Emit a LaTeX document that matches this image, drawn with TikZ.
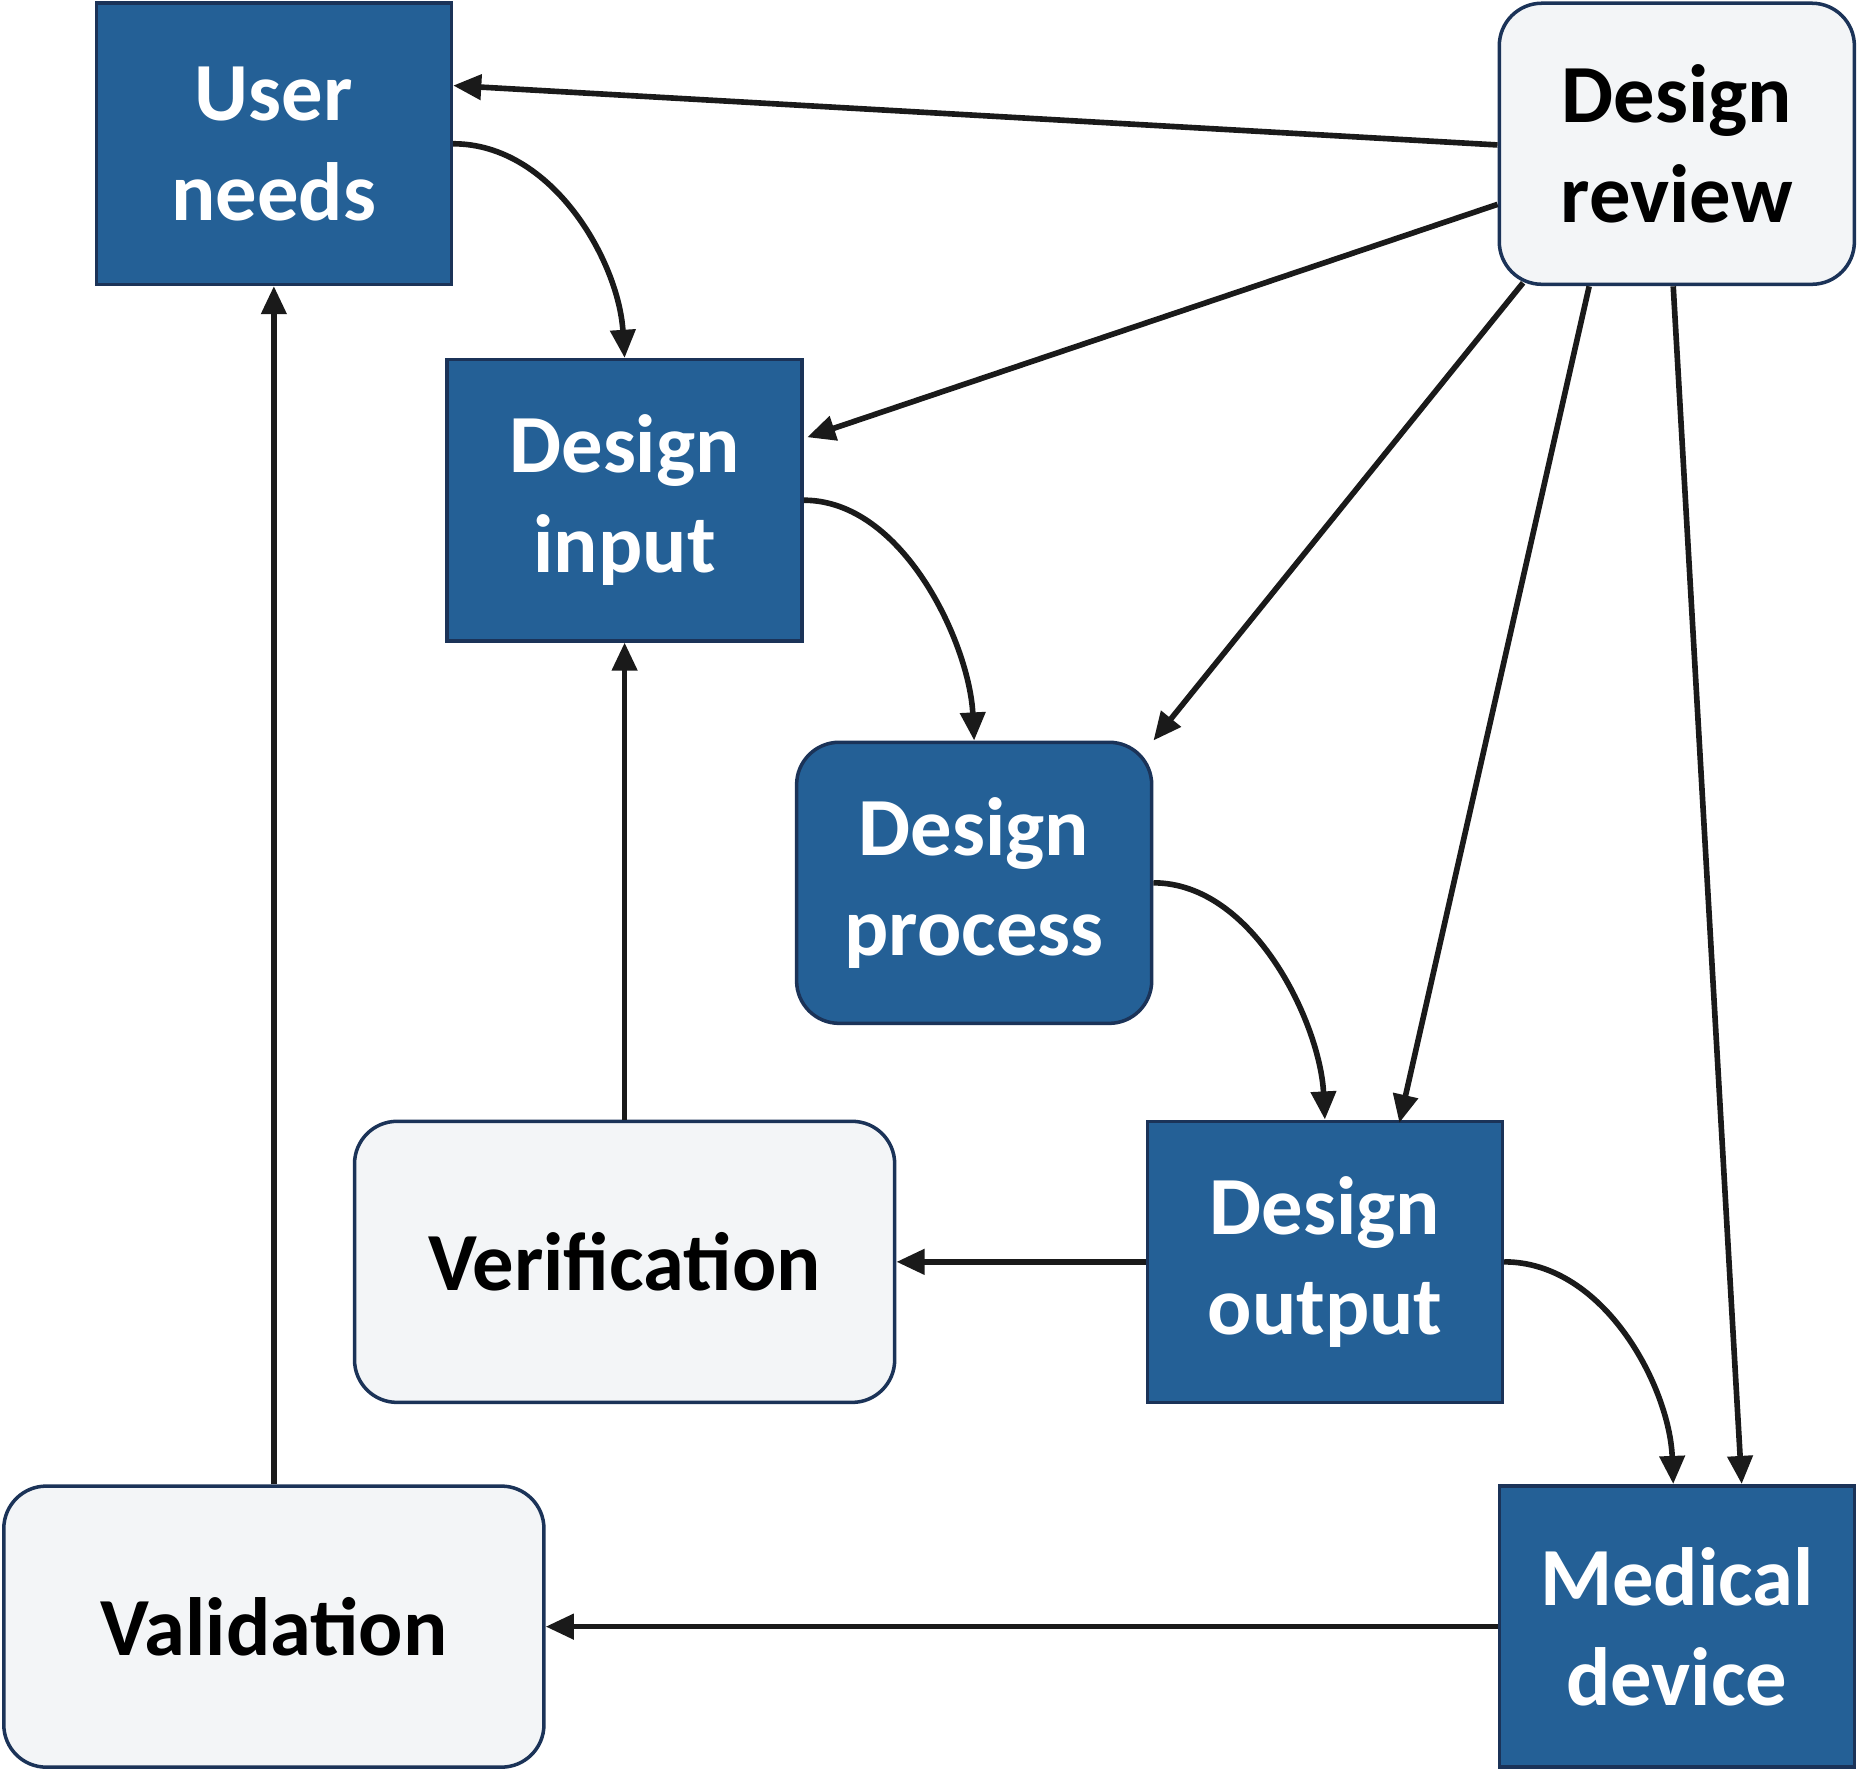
\documentclass[tikz,border=0pt]{standalone}
\usepackage{fontspec}
\setmainfont{Carlito}
\usetikzlibrary{arrows.meta}
\definecolor{blu}{HTML}{246096}
\definecolor{bord}{HTML}{1B3358}
\definecolor{lite}{HTML}{F3F5F7}
\definecolor{ink}{HTML}{1A1A1A}
\begin{document}
\begin{tikzpicture}[x=0.02402cm,y=-0.02376cm,
 base/.style={draw=bord,line width=2pt,align=center,inner sep=0pt,
   font=\fontsize{47}{57}\selectfont\bfseries,minimum width=7.1cm,minimum height=5.62cm},
 blue/.style={base,fill=blu,text=white},
 lt/.style={base,fill=lite,text=black,rounded corners=0.85cm},
 arr/.style={draw=ink,line width=3.2pt,-{Triangle[length=16pt,width=14pt]}}]
\useasboundingbox (0,0) rectangle (1546,1490);
\node[blue] (un) at (228,121) {User\\needs};
\node[lt] (dr) at (1396,121) {Design\\review};
\node[blue] (di) at (520,421) {Design\\input};
\node[blue,rounded corners=0.85cm] (dp) at (811,743) {Design\\process};
\node[blue] (do) at (1103,1062) {Design\\output};
\node[lt,minimum width=10.8cm] (ve) at (520,1062) {Verification};
\node[lt,minimum width=10.8cm] (va) at (228,1369) {Validation};
\node[blue] (md) at (1396,1369) {Medical\\device};
\draw[arr] (dr.west|-0,122) -- (un.east|-0,72);
\draw[arr] (dr.west|-0,172) -- (672,368);
\draw[arr] (1268,238) -- (dp.north east);
\draw[arr] (1323,241) -- (1165,945);
\draw[arr] (1393,241) -- (1450,1249);
\draw[arr] (un.east|-0,121) .. controls (460,121) and (515,220) .. (di.north);
\draw[arr] (di.east) .. controls (752,421) and (807,542) .. (dp.north);
\draw[arr] (dp.east) .. controls (1044,743) and (1099,862) .. (do.north);
\draw[arr] (do.east) .. controls (1336,1062) and (1390,1168) .. (1393,1249);
\draw[arr] (do.west) -- (ve.east);
\draw[arr] (ve.north) -- (di.south);
\draw[arr] (va.north) -- (un.south);
\draw[arr] (md.west) -- (va.east);
\end{tikzpicture}
\end{document}
